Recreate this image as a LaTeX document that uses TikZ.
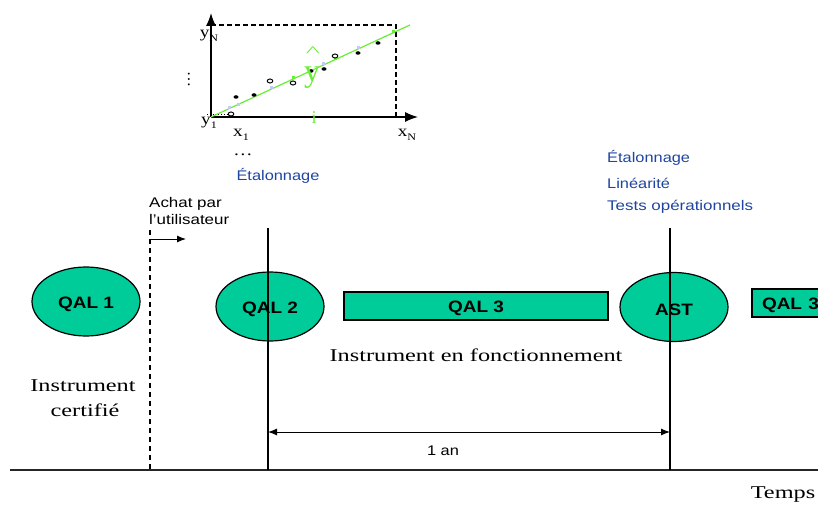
\documentclass[tikz,border=0pt]{standalone}
\usepackage{fontspec}
\usepackage{graphicx}
\setmainfont{Liberation Serif}
\setsansfont{Liberation Sans}
\usetikzlibrary{arrows.meta,shapes.geometric}
\definecolor{qalgreen}{HTML}{00CC99}
\definecolor{labelblue}{HTML}{1F45A0}
\definecolor{fitgreen}{HTML}{66EE33}
\definecolor{lav}{HTML}{C4CCEE}
\newcommand{\strA}[1]{\scalebox{1.17}[1]{#1}}
\newcommand{\strD}[1]{\scalebox{1.21}[1]{#1}}
\newcommand{\strB}[1]{\scalebox{1.35}[1]{#1}}
\newcommand{\strC}[1]{\raisebox{-2.5pt}[\height][\depth]{\scalebox{1.15}[1]{#1}}}
\newcommand{\axl}[2]{\scalebox{1.2}[1]{#1\raisebox{-3.5pt}{\fontsize{10}{10}\selectfont #2}}}
\tikzset{
  qalell/.style={draw=black,line width=1.2pt,fill=qalgreen,ellipse,inner sep=0pt,minimum width=108pt,minimum height=69pt,font=\sffamily\bfseries\fontsize{16.5}{16.5}\selectfont},
  qalbox/.style={draw=black,line width=1.1pt,fill=qalgreen,inner sep=0pt,font=\sffamily\bfseries\fontsize{16.5}{16.5}\selectfont},
  sanslab/.style={inner sep=0pt,font=\sffamily\fontsize{14}{14}\selectfont},
  bluelab/.style={sanslab,text=labelblue,anchor=west},
  seriflab/.style={inner sep=0pt,font=\fontsize{18}{18}\selectfont},
  axlab/.style={inner sep=0pt,font=\fontsize{16}{16}\selectfont},
  marker/.style={draw=none,fill=black,ellipse,minimum width=5pt,minimum height=3.5pt,inner sep=0pt},
  openmark/.style={draw=black,line width=1pt,fill=white,ellipse,minimum width=5.5pt,minimum height=4pt,inner sep=0pt},
  tick/.style={fill=lav,minimum size=3pt,inner sep=0pt,draw=none},
  gtick/.style={fill=fitgreen,minimum size=3pt,inner sep=0pt,draw=none},
  axis/.style={line width=1.3pt,-{Latex[length=13pt,width=10pt]}},
}
\begin{document}
\begin{tikzpicture}[x=1pt,y=-1pt]
\useasboundingbox (0,0) rectangle (818,505);
% timeline
\coordinate (tl) at (10,470);
\coordinate (tr) at (818,470);
\coordinate (dt) at (150,230);
\coordinate (db) at (150,470);
\coordinate (at) at (150,239);
\coordinate (ae) at (186,239);
\coordinate (v1t) at (268,228);
\coordinate (v1b) at (268,470);
\coordinate (v2t) at (670,228);
\coordinate (v2b) at (670,470);
\coordinate (s1) at (268,432);
\coordinate (s2) at (670,432);
\node[qalell] (q1) at (86,301.5) {\strC{QAL 1}};
\node[qalell] (q2) at (270,306.5) {\strC{QAL 2}};
\node[qalell] (ast) at (674,307) {\strC{AST}};
\node[qalbox,minimum width=264pt,minimum height=28pt] (q3) at (476,306) {\strC{QAL 3}};
\node[qalbox,minimum width=80pt,minimum height=28pt,text width=60pt,align=left] (q3b) at (792,303) {\strC{QAL 3}};
\draw[line width=1.3pt,color=black!85] (tl) -- (tr);
\draw[line width=1.5pt,dash pattern=on 5pt off 4pt] (dt) -- (db);
\draw[line width=1.5pt] (v1t) -- (v1b);
\draw[line width=1.5pt] (v2t) -- (v2b);
\draw[line width=1pt,-{Latex[length=9pt,width=7pt]}] (at) -- (ae);
\draw[line width=1pt,{Latex[length=9pt,width=7pt]}-{Latex[length=9pt,width=7pt]}] (s1) -- (s2);
\node[sanslab,anchor=west] (achat) at (149,204) {\strD{Achat par}};
\node[sanslab,anchor=west] (util) at (149,219) {\strD{l'utilisateur}};
\node[seriflab] (ic1) at (83,386) {\strB{Instrument}};
\node[seriflab] (ic2) at (85,410) {\strB{certifié}};
\node[seriflab] (fn) at (476,355) {\strB{Instrument en fonctionnement}};
\node[sanslab] (an) at (443,451) {\strA{1 an}};
\node[seriflab] (temps) at (783,495) {\strB{Temps}};
\node[bluelab] (b1) at (607,158) {\strA{Étalonnage}};
\node[bluelab] (b2) at (607,183) {\strA{Linéarité}};
\node[bluelab] (b3) at (607,207) {\strD{Tests opérationnels}};
\node[sanslab,text=labelblue] (b0) at (278,176) {\strA{Étalonnage}};
% plot
\coordinate (o) at (211,117);
\coordinate (ytop) at (211,13);
\coordinate (xend) at (418,117);
\coordinate (tl2) at (211,25);
\coordinate (tr2) at (396,25);
\coordinate (br2) at (396,117);
\coordinate (f1) at (211,117);
\coordinate (f2) at (410,25);
\coordinate (y1a) at (207,114);
\coordinate (y1b) at (231,114);
\draw[axis] (o) -- (ytop);
\draw[axis] (o) -- (xend);
\draw[line width=1.3pt,dash pattern=on 5pt off 3pt] (tl2) -- (tr2) -- (br2);
\draw[line width=.8pt,dotted] (y1a) -- (y1b);
\draw[fitgreen,line width=1.2pt] (f1) -- (f2);
\foreach \p in {(229,108),(238,105),(271,88),(311,71),(323,64),(358,48)} \node[tick] at \p {};
\foreach \p in {(254,96),(293,78),(335,59),(393,32)} \node[gtick] at \p {};
\foreach \p in {(236,97),(254,95),(324,69),(358,53),(378,43),(311,71)} \node[marker] at \p {};
\foreach \p in {(231,114),(270,81),(293,83),(335,56)} \node[openmark] at \p {};
\node[axlab] (yn) at (209,36) {\axl{y}{N}};
\node[axlab] (y1) at (209,123) {\axl{y}{1}};
\node[axlab] (x1) at (241,135) {\axl{x}{1}};
\node[axlab] (xn) at (407,135) {\axl{x}{N}};
\node[axlab,rotate=90] (vd) at (189,80) {\dots};
\node[axlab] (hd) at (243,155) {\scalebox{1.2}[1]{\dots}};
\node[inner sep=0pt,text=fitgreen,font=\fontsize{32}{32}\selectfont] (yh) at (312,78) {y};
\node[inner sep=0pt,text=fitgreen,font=\fontsize{30}{30}\selectfont] (hat) at (313,52) {\scalebox{1}[.5]{\^{}}};
\node[inner sep=0pt,text=fitgreen,font=\fontsize{18}{18}\selectfont] (ii) at (314,118) {i};
\end{tikzpicture}
\end{document}
